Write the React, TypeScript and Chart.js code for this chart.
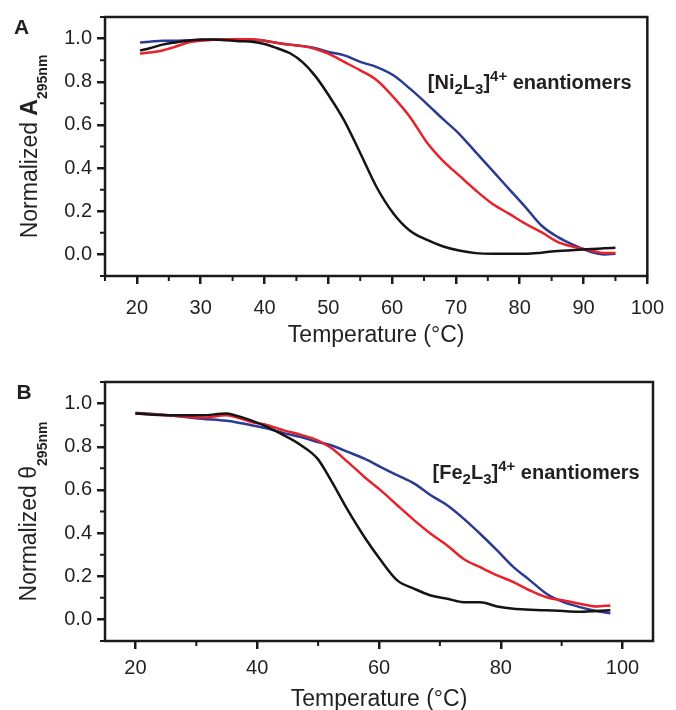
import React, { useEffect, useRef } from "react";
import { Chart, registerables } from "chart.js";

Chart.register(...registerables);

const FONT = "'Liberation Sans', Arial, Helvetica, sans-serif";
const TEXT = "#231f20";
const AXIS = "#1a1a1a";
const BLACK = "#141414";
const RED = "#e8212b";
const BLUE = "#2b3a93";

// ---------- Panel A : [Ni2L3]4+ ----------
const tempA = [20.5, 22, 24, 26, 28, 30, 32, 34, 36, 38, 40, 42, 44, 46, 48, 50, 52.5, 55, 57.6, 60.2, 62.8, 65.4, 67.9, 70.5, 73.1, 75.7, 78.3, 80.9, 83.4, 86, 88.6, 91.2, 93.3, 95];
const niBlack = [0.945, 0.955, 0.972, 0.982, 0.99, 0.996, 0.996, 0.992, 0.988, 0.985, 0.975, 0.955, 0.932, 0.89, 0.825, 0.74, 0.62, 0.47, 0.31, 0.19, 0.11, 0.068, 0.038, 0.018, 0.006, 0.003, 0.003, 0.003, 0.008, 0.016, 0.02, 0.025, 0.028, 0.031];
const niRed = [0.93, 0.935, 0.945, 0.962, 0.982, 0.99, 0.995, 0.997, 0.997, 0.997, 0.99, 0.98, 0.972, 0.965, 0.952, 0.93, 0.892, 0.853, 0.807, 0.729, 0.637, 0.521, 0.436, 0.366, 0.297, 0.235, 0.189, 0.142, 0.103, 0.057, 0.034, 0.018, 0.006, 0.006];
const niBlue = [0.982, 0.985, 0.99, 0.99, 0.992, 0.993, 0.995, 0.997, 0.997, 0.995, 0.99, 0.98, 0.972, 0.965, 0.955, 0.938, 0.922, 0.892, 0.868, 0.83, 0.768, 0.699, 0.629, 0.559, 0.474, 0.389, 0.304, 0.219, 0.134, 0.08, 0.042, 0.011, 0.0, 0.003];
const xTicksA = [20, 30, 40, 50, 60, 70, 80, 90, 100];
const xMinorA = [15, 25, 35, 45, 55, 65, 75, 85, 95];

// ---------- Panel B : [Fe2L3]4+ ----------
const tempB = [20, 25.4, 30.9, 34.9, 36.3, 39, 41.7, 44.4, 47.2, 49.9, 52.1, 54.9, 57.6, 60.3, 63, 65.8, 68.5, 71.2, 73.9, 76.6, 79.4, 82.1, 84.8, 87.5, 90.3, 93, 95.7, 98];
const feBlack = [0.954, 0.946, 0.946, 0.954, 0.946, 0.922, 0.891, 0.853, 0.807, 0.745, 0.645, 0.505, 0.382, 0.274, 0.181, 0.142, 0.111, 0.096, 0.08, 0.08, 0.06, 0.049, 0.045, 0.042, 0.039, 0.035, 0.039, 0.042];
const feRed = [0.954, 0.946, 0.935, 0.946, 0.939, 0.915, 0.9, 0.876, 0.855, 0.83, 0.795, 0.729, 0.66, 0.598, 0.529, 0.459, 0.397, 0.343, 0.28, 0.242, 0.204, 0.173, 0.134, 0.103, 0.088, 0.073, 0.06, 0.065];
const feBlue = [0.957, 0.946, 0.93, 0.92, 0.915, 0.9, 0.884, 0.863, 0.845, 0.822, 0.807, 0.776, 0.745, 0.706, 0.668, 0.629, 0.575, 0.529, 0.467, 0.397, 0.32, 0.242, 0.181, 0.119, 0.08, 0.057, 0.039, 0.029];
const xTicksB = [20, 40, 60, 80, 100];
const xMinorB = [30, 50, 70, 90];

// ---------- shared y axis ----------
const yTicks = [0, 0.2, 0.4, 0.6, 0.8, 1.0];
const yMinor = [-0.1, 0.1, 0.3, 0.5, 0.7, 0.9, 1.1];

const xTitle = "Temperature (°C)";

type Part = { text: string; size: number; bold?: boolean; dy?: number };

const yTitleA: Part[] = [
  { text: "Normalized ", size: 23 },
  { text: "A", size: 23, bold: true },
  { text: "295nm", size: 14, bold: true, dy: 10 },
];
const yTitleB: Part[] = [
  { text: "Normalized θ", size: 23 },
  { text: "295nm", size: 14, bold: true, dy: 11 },
];
const noteA: Part[] = [
  { text: "[Ni", size: 20, bold: true },
  { text: "2", size: 15, bold: true, dy: 5 },
  { text: "L", size: 20, bold: true },
  { text: "3", size: 15, bold: true, dy: 5 },
  { text: "]", size: 20, bold: true },
  { text: "4+", size: 15, bold: true, dy: -8 },
  { text: " enantiomers", size: 20, bold: true },
];
const noteB: Part[] = [
  { text: "[Fe", size: 20, bold: true },
  { text: "2", size: 15, bold: true, dy: 5 },
  { text: "L", size: 20, bold: true },
  { text: "3", size: 15, bold: true, dy: 5 },
  { text: "]", size: 20, bold: true },
  { text: "4+", size: 15, bold: true, dy: -8 },
  { text: " enantiomers", size: 20, bold: true },
];

function fontOf(p: Part) {
  return `${p.bold ? "bold " : ""}${p.size}px ${FONT}`;
}
function richWidth(ctx: CanvasRenderingContext2D, parts: Part[]) {
  let w = 0;
  for (const p of parts) {
    ctx.font = fontOf(p);
    w += ctx.measureText(p.text).width;
  }
  return w;
}
function drawRich(ctx: CanvasRenderingContext2D, parts: Part[], x: number, y: number) {
  let cx = x;
  ctx.textAlign = "left";
  ctx.textBaseline = "alphabetic";
  for (const p of parts) {
    ctx.font = fontOf(p);
    ctx.fillText(p.text, cx, y + (p.dy || 0));
    cx += ctx.measureText(p.text).width;
  }
}

type PanelCfg = {
  letter: string;
  temps: number[];
  black: number[];
  red: number[];
  blue: number[];
  xMin: number;
  xMax: number;
  xTicks: number[];
  xMinor: number[];
  yTitle: Part[];
  note: Part[];
  noteAt: [number, number];
  canvasTop: number;
  height: number;
  padTop: number;
  padRight: number;
  xAxisH: number;
  xTickPad: number;
  yTitleX: number;
  letterX: number;
  xTitleDy: number;
};

const panels: PanelCfg[] = [
  {
    letter: "A",
    temps: tempA,
    black: niBlack,
    red: niRed,
    blue: niBlue,
    xMin: 15,
    xMax: 100,
    xTicks: xTicksA,
    xMinor: xMinorA,
    yTitle: yTitleA,
    note: noteA,
    noteAt: [65.6, 0.768],
    canvasTop: 0,
    height: 355,
    padTop: 16,
    padRight: 22,
    xAxisH: 79,
    xTickPad: 12,
    yTitleX: 36.7,
    letterX: 14,
    xTitleDy: 66,
  },
  {
    letter: "B",
    temps: tempB,
    black: feBlack,
    red: feRed,
    blue: feBlue,
    xMin: 15,
    xMax: 105,
    xTicks: xTicksB,
    xMinor: xMinorB,
    yTitle: yTitleB,
    note: noteB,
    noteAt: [68.8, 0.652],
    canvasTop: 355,
    height: 355,
    padTop: 27,
    padRight: 23,
    xAxisH: 69,
    xTickPad: 7,
    yTitleX: 35.5,
    letterX: 16.5,
    xTitleDy: 65,
  },
];

function decorPlugin(cfg: PanelCfg) {
  return {
    id: "decor" + cfg.letter,
    afterDraw(chart: any) {
      const { ctx, chartArea: a, scales } = chart;
      const xs = scales.x;
      const ys = scales.y;
      ctx.save();
      // frame
      ctx.strokeStyle = AXIS;
      ctx.lineWidth = 2.5;
      ctx.lineJoin = "miter";
      ctx.strokeRect(a.left, a.top, a.right - a.left, a.bottom - a.top);
      // minor ticks
      ctx.lineWidth = 2;
      ctx.beginPath();
      for (const v of cfg.xMinor) {
        const px = xs.getPixelForValue(v);
        ctx.moveTo(px, a.bottom);
        ctx.lineTo(px, a.bottom + 5);
      }
      for (const v of yMinor) {
        const py = ys.getPixelForValue(v);
        ctx.moveTo(a.left, py);
        ctx.lineTo(a.left - 5, py);
      }
      ctx.stroke();

      ctx.fillStyle = TEXT;
      // x title
      ctx.font = `23px ${FONT}`;
      ctx.textAlign = "center";
      ctx.textBaseline = "alphabetic";
      ctx.fillText(xTitle, (a.left + a.right) / 2, a.bottom + cfg.xTitleDy);

      // panel letter
      ctx.font = `bold 21px ${FONT}`;
      ctx.textAlign = "left";
      ctx.fillText(cfg.letter, cfg.letterX, a.top + 17);

      // annotation
      drawRich(ctx, cfg.note, xs.getPixelForValue(cfg.noteAt[0]), ys.getPixelForValue(cfg.noteAt[1]));

      // y title (rotated)
      ctx.save();
      ctx.translate(cfg.yTitleX, (a.top + a.bottom) / 2);
      ctx.rotate(-Math.PI / 2);
      const w = richWidth(ctx, cfg.yTitle);
      drawRich(ctx, cfg.yTitle, -w / 2, 0);
      ctx.restore();

      ctx.restore();
    },
  };
}

function Panel({ cfg }: { cfg: PanelCfg }) {
  const ref = useRef<HTMLCanvasElement | null>(null);
  useEffect(() => {
    const canvas = ref.current;
    if (!canvas) return;
    const mk = (vals: number[], color: string) => ({
      data: cfg.temps.map((t, i) => ({ x: t, y: vals[i] })),
      borderColor: color,
      backgroundColor: color,
      borderWidth: 2.5,
      pointRadius: 0,
      cubicInterpolationMode: "monotone" as const,
      fill: false,
    });
    const gridCfg = {
      display: true,
      drawOnChartArea: false,
      drawTicks: true,
      tickLength: 8,
      color: AXIS,
      lineWidth: 2.5,
      tickWidth: 2.5,
      tickColor: AXIS,
    };
    const chart = new Chart(canvas, {
      type: "line",
      data: { datasets: [mk(cfg.black, BLACK), mk(cfg.red, RED), mk(cfg.blue, BLUE)] },
      options: {
        responsive: false,
        animation: false,
        devicePixelRatio: 1,
        layout: { padding: { top: cfg.padTop, right: cfg.padRight, left: 0, bottom: 0 } },
        plugins: { legend: { display: false }, tooltip: { enabled: false } },
        scales: {
          x: {
            type: "linear",
            min: cfg.xMin,
            max: cfg.xMax,
            afterBuildTicks: (s: any) => {
              s.ticks = cfg.xTicks.map((v) => ({ value: v }));
            },
            afterFit: (s: any) => {
              s.height = cfg.xAxisH;
            },
            grid: gridCfg,
            border: { display: false },
            ticks: {
              padding: cfg.xTickPad,
              autoSkip: false,
              maxRotation: 0,
              color: TEXT,
              font: { size: 20, family: FONT },
              callback: (v: any) => String(v),
            },
          },
          y: {
            type: "linear",
            min: -0.1,
            max: 1.1,
            afterBuildTicks: (s: any) => {
              s.ticks = yTicks.map((v) => ({ value: v }));
            },
            afterFit: (s: any) => {
              s.width = 105;
            },
            grid: gridCfg,
            border: { display: false },
            ticks: {
              padding: 5,
              autoSkip: false,
              color: TEXT,
              font: { size: 20, family: FONT },
              callback: (v: any) => Number(v).toFixed(1),
            },
          },
        },
      } as any,
      plugins: [decorPlugin(cfg)],
    });
    return () => chart.destroy();
  }, [cfg]);
  return (
    <canvas
      ref={ref}
      width={676}
      height={cfg.height}
      style={{ position: "absolute", left: 0, top: cfg.canvasTop, display: "block" }}
    />
  );
}

export default function App() {
  return (
    <div style={{ position: "absolute", left: 0, top: 0, width: 676, height: 710, background: "#fff" }}>
      {panels.map((p) => (
        <Panel key={p.letter} cfg={p} />
      ))}
    </div>
  );
}
